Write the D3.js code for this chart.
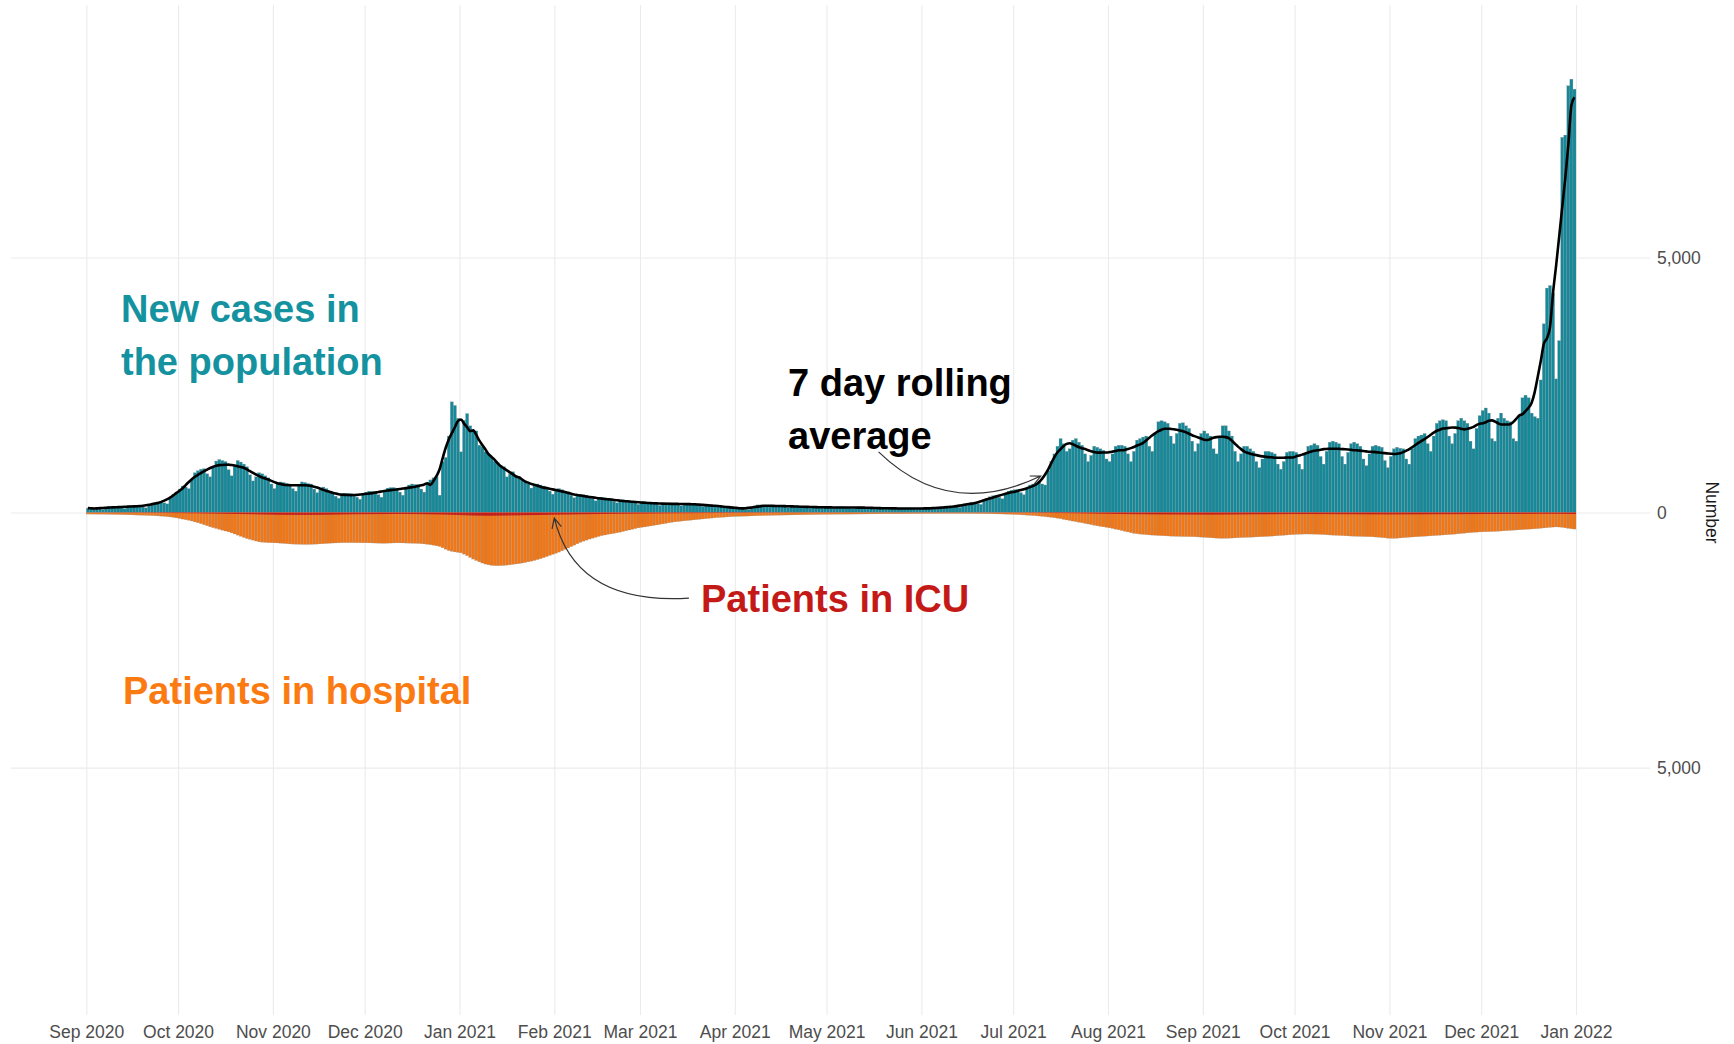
<!DOCTYPE html>
<html>
<head>
<meta charset="utf-8">
<script src="https://cdn.jsdelivr.net/npm/d3@7"></script>
<style>
  body { margin: 0; background: #fff; }
  svg { display: block; font-family: "Liberation Sans", Arial, sans-serif; }
</style>
</head>
<body>
<svg id="chart" width="1734" height="1044"></svg>
<script>
// daily series, one value per day starting at firstDay
var firstDay = "2020-09-01";

var newCases = [
  85,90,88,84,70,58,100,112,118,115,110,92,78,120,135,140,138,130,108,92,150,180,195,210,220,190,170,300,350,400,
  460,520,500,470,640,780,820,850,860,760,700,900,1010,1040,1020,1000,840,720,930,1020,990,950,900,740,620,700,780,760,720,680,560,
  470,560,600,590,570,560,470,420,540,600,590,570,560,460,390,480,500,470,420,390,320,280,340,380,380,370,360,300,260,360,
  400,420,420,410,350,300,440,480,490,490,480,400,340,480,540,560,550,550,460,400,580,640,680,700,340,1000,1080,1500,2170,2100,1850,
  1190,1810,1940,1700,1610,1600,1320,1290,1190,1150,1090,1000,980,930,900,700,760,800,720,700,650,620,560,480,520,560,540,520,500,420,360,
  460,470,450,420,400,340,290,330,360,350,340,320,270,230,270,300,290,280,270,220,190,230,250,240,230,220,190,160,
  190,210,205,200,190,160,140,170,190,190,185,180,150,130,165,185,180,175,170,145,120,140,155,150,140,135,110,95,105,110,105,
  100,90,70,60,55,90,130,150,150,125,110,120,140,145,140,135,115,100,115,130,130,125,120,100,85,100,120,115,115,110,
  90,80,85,110,115,110,105,90,75,90,110,110,105,100,85,70,80,95,95,90,88,75,65,75,88,88,85,85,72,62,70,
  90,92,90,90,78,68,95,110,115,120,125,110,100,140,170,185,195,200,175,160,230,280,310,330,340,300,270,360,420,440,
  450,450,390,350,470,540,560,580,600,560,540,820,1000,1150,1300,1450,1350,1200,1250,1420,1450,1380,1320,1150,1000,1120,1300,1280,1250,1220,1050,
  1000,1150,1300,1320,1320,1300,1150,1000,1200,1420,1450,1480,1500,1300,1200,1550,1780,1800,1780,1750,1500,1350,1550,1750,1760,1700,1650,1400,1200,1350,1550,
  1600,1550,1500,1250,1150,1500,1700,1700,1600,1500,1200,1000,1150,1300,1300,1250,1200,1000,880,1050,1200,1200,1180,1150,950,850,1000,1180,1200,1200,
  1180,950,850,1150,1300,1320,1350,1320,1100,950,1200,1380,1400,1380,1350,1100,950,1180,1350,1380,1350,1300,1050,920,1150,1300,1320,1300,1280,1020,880,
  1100,1250,1280,1260,1250,1050,950,1250,1450,1500,1520,1550,1350,1200,1500,1750,1800,1820,1800,1500,1350,1550,1800,1850,1800,1750,1400,1250,1650,1900,
  2000,2050,1950,1450,1400,1850,1950,1850,1800,1780,1450,1400,1900,2250,2300,2250,1950,1880,1850,2600,3700,4400,4450,4300,2620,3370,7355,7400,8366,8496,8300
];

var hospital = [
  30,30,31,32,33,33,34,35,37,38,39,40,42,44,45,47,49,51,53,55,57,60,63,66,70,75,80,87,95,105,
  117,128,140,150,165,183,200,218,238,258,280,296,312,328,345,362,378,398,420,442,465,488,509,525,540,558,574,580,586,590,592,
  594,596,600,605,610,615,618,620,622,624,625,625,623,620,618,614,610,606,602,598,596,594,592,590,590,590,591,592,593,594,
  594,595,596,598,600,602,603,600,598,596,595,595,596,598,600,602,604,606,610,615,622,630,640,652,665,690,720,745,760,772,780,
  790,815,845,880,912,940,966,990,1010,1025,1035,1040,1042,1040,1036,1030,1024,1016,1008,1000,990,978,966,952,938,922,904,884,862,840,818,
  798,775,750,722,695,668,640,612,585,560,540,520,502,485,468,452,440,428,418,408,396,384,370,356,342,328,314,300,
  290,282,272,262,252,242,232,222,212,200,190,182,175,168,162,156,150,144,138,132,126,120,114,108,103,98,94,90,86,82,78,
  76,74,72,70,68,66,64,62,60,58,57,55,54,52,51,50,49,48,47,46,45,44,43,42,41,40,39,38,37,36,
  35,35,34,33,33,32,31,31,30,30,29,29,28,28,27,27,26,26,26,25,25,25,24,24,24,23,23,23,22,22,22,
  22,21,21,21,20,20,20,20,19,19,19,19,19,20,20,20,21,21,22,22,23,24,25,26,27,28,29,31,33,35,
  38,41,44,47,51,55,59,63,68,74,80,87,94,102,110,120,134,145,156,167,178,190,200,212,224,236,248,260,270,280,290,
  300,312,325,338,352,366,380,394,408,415,422,428,433,438,442,446,450,453,456,459,462,464,466,468,470,471,472,473,475,478,482,
  486,490,494,498,502,505,506,505,503,500,497,493,490,488,486,484,481,478,475,472,469,466,462,458,453,449,445,440,436,432,
  428,425,423,421,421,422,424,426,429,432,436,440,443,446,449,452,455,458,461,464,466,468,470,472,473,476,480,485,490,496,502,
  506,506,503,498,493,488,484,479,475,472,468,464,460,456,452,448,444,440,436,432,427,422,416,410,404,398,393,388,384,380,
  378,376,374,372,370,366,362,358,354,350,346,342,338,334,330,326,322,318,314,308,302,296,290,285,282,284,290,300,310,318,324
];

var icu = [
  2,2,2,3,3,3,3,3,4,4,4,4,4,5,5,5,6,5,6,6,6,7,7,7,8,8,9,9,10,11,
  11,12,12,13,14,14,15,16,17,18,19,20,21,22,22,24,25,26,27,28,29,30,31,32,33,34,36,37,38,39,40,
  41,42,43,44,45,45,46,46,46,47,47,46,46,45,45,44,43,42,41,40,39,38,37,36,35,34,34,33,33,32,
  32,31,31,30,30,30,29,29,29,28,28,28,28,29,29,30,30,31,31,32,33,34,35,36,37,38,40,42,44,46,48,
  50,52,54,56,58,59,60,61,62,62,62,61,61,60,59,58,57,56,55,54,53,52,51,50,49,48,47,46,45,44,43,
  42,41,40,39,38,37,36,35,34,33,32,31,30,30,29,28,28,27,26,26,25,24,24,23,22,22,21,20,
  20,19,19,18,18,17,17,16,16,15,15,14,14,13,13,12,12,12,11,11,11,10,10,10,9,9,9,8,8,8,8,
  7,7,7,7,6,6,6,6,6,5,5,5,5,5,5,4,4,4,4,4,4,4,4,3,3,3,3,3,3,3,
  3,3,3,3,3,3,3,3,2,2,2,2,2,2,2,2,2,2,2,2,2,2,2,2,2,2,2,2,2,2,2,
  2,2,2,2,2,2,2,2,2,2,2,2,2,2,2,2,2,2,2,2,2,2,3,3,3,3,3,3,4,4,
  4,4,5,5,5,6,6,6,7,7,8,8,9,9,10,10,11,12,12,13,14,15,16,17,18,19,20,21,22,23,24,
  25,26,27,28,29,30,30,31,32,32,33,33,34,34,35,35,35,36,36,36,37,37,37,38,38,38,38,39,39,39,39,
  40,40,40,40,39,39,39,38,38,38,37,37,36,36,35,35,34,34,33,33,33,32,32,32,31,31,31,30,30,30,
  30,30,30,29,29,29,29,30,30,30,30,31,31,31,32,32,32,33,33,33,34,34,34,34,35,35,35,35,35,36,36,
  36,36,36,36,35,35,35,35,34,34,34,34,33,33,33,33,32,32,32,32,31,31,31,31,30,30,30,30,30,29,
  29,29,29,28,28,28,28,27,27,27,27,27,26,26,26,26,26,25,25,25,25,25,25,25,25,25,26,26,27,27,28
];

var monthTicks = [
  "2020-09-01", "2020-10-01", "2020-11-01", "2020-12-01", "2021-01-01", "2021-02-01",
  "2021-03-01", "2021-04-01", "2021-05-01", "2021-06-01", "2021-07-01", "2021-08-01",
  "2021-09-01", "2021-10-01", "2021-11-01", "2021-12-01", "2022-01-01"
];
var valueTicks = [-5000, 0, 5000];

var teal = "#15899a", orange = "#f27614", red = "#c21d1d";

var panel = {left: 11, right: 1650, top: 5, bottom: 1015};
var parse = d3.utcParse("%Y-%m-%d");
var start = parse(firstDay);

var days = newCases.map(function(v, i) {
    return {date: d3.utcDay.offset(start, i), cases: v, hosp: hospital[i], icu: icu[i]};
});

var x = d3.scaleUtc()
    .domain([start, parse("2022-01-01")])
    .range([86.3, 1576]);
var y = d3.scaleLinear()
    .domain([-9850, 9950])
    .range([panel.bottom, panel.top]);

function barW(d) {
    return x(d3.utcDay.offset(d.date, 1)) - x(d.date);
}

var svg = d3.select("#chart");

// month gridlines + labels
var gx = svg.append("g")
    .attr("transform", "translate(0," + panel.bottom + ")")
    .call(d3.axisBottom(x)
        .tickValues(monthTicks.map(parse))
        .tickFormat(d3.utcFormat("%b %Y"))
        .tickSize(-(panel.bottom - panel.top))
        .tickPadding(10.5));
gx.attr("font-family", null).attr("font-size", 17.5);
gx.select(".domain").remove();
gx.selectAll(".tick line").attr("stroke", "#ebebeb").attr("stroke-width", 1.1);
gx.selectAll(".tick text").attr("fill", "#4d4d4d");

var gy = svg.append("g")
    .attr("transform", "translate(" + panel.right + ",0)")
    .call(d3.axisRight(y)
        .tickValues(valueTicks)
        .tickFormat(function(d) { return d3.format(",")(Math.abs(d)); })
        .tickSize(-(panel.right - panel.left))
        .tickPadding(7));
gy.attr("font-family", null).attr("font-size", 17.5);
gy.select(".domain").remove();
gy.selectAll(".tick line").attr("stroke", "#ebebeb").attr("stroke-width", 1.1);
gy.selectAll(".tick text").attr("fill", "#4d4d4d");

svg.append("text")
    .attr("transform", "translate(1712," + y(0) + ") rotate(90)")
    .attr("text-anchor", "middle")
    .attr("dy", "0.35em")
    .attr("font-size", 17.5)
    .attr("fill", "#1a1a1a")
    .text("Number");

// bars
var bars = svg.append("g");
bars.selectAll("rect.cases")
    .data(days)
    .enter().append("rect")
    .attr("class", "cases")
    .attr("x", function(d) { return x(d.date); })
    .attr("width", barW)
    .attr("y", function(d) { return y(d.cases); })
    .attr("height", function(d) { return y(0) - y(d.cases); })
    .attr("fill", teal)
    .attr("stroke", "#8e8e8e")
    .attr("stroke-width", 0.25);
bars.selectAll("rect.hosp")
    .data(days)
    .enter().append("rect")
    .attr("class", "hosp")
    .attr("x", function(d) { return x(d.date); })
    .attr("width", barW)
    .attr("y", y(0))
    .attr("height", function(d) { return y(-d.hosp) - y(0); })
    .attr("fill", orange)
    .attr("stroke", "#8e8e8e")
    .attr("stroke-width", 0.25);
bars.selectAll("rect.icu")
    .data(days)
    .enter().append("rect")
    .attr("class", "icu")
    .attr("x", function(d) { return x(d.date); })
    .attr("width", barW)
    .attr("y", y(0))
    .attr("height", function(d) { return y(-d.icu) - y(0); })
    .attr("fill", red);

// centred 7 day rolling mean
var rolling = days.map(function(d, i) {
    var win = newCases.slice(Math.max(0, i - 3), Math.min(newCases.length, i + 4));
    return {date: d.date, w: barW(d), value: d3.mean(win)};
});
svg.append("path")
    .datum(rolling)
    .attr("fill", "none")
    .attr("stroke", "#000")
    .attr("stroke-width", 2.6)
    .attr("stroke-linejoin", "round")
    .attr("d", d3.line()
        .x(function(d) { return x(d.date) + d.w / 2; })
        .y(function(d) { return y(d.value); })
        .curve(d3.curveMonotoneX));

// annotations
function label(lines, px, py, color) {
    var t = svg.append("text")
        .attr("font-size", 38)
        .attr("font-weight", "bold")
        .attr("fill", color);
    lines.forEach(function(s, i) {
        t.append("tspan").attr("x", px).attr("y", py + i * 52.5).text(s);
    });
}
label(["New cases in", "the population"], 121, 322, "#1592a0");
label(["7 day rolling", "average"], 788, 396, "#000");
label(["Patients in ICU"], 701, 612, "#c41a17");
label(["Patients in hospital"], 123, 704, "#fb7b12");

var arrows = [
    {from: ["2021-05-18", 1190], via: ["2021-06-10", -150], to: ["2021-07-10", 716]},
    {from: ["2021-03-17", -1676], via: ["2021-02-08", -1814], to: ["2021-02-01", -108]}
];
arrows.forEach(function(a) {
    var p0 = [x(parse(a.from[0])), y(a.from[1])],
        pc = [x(parse(a.via[0])), y(a.via[1])],
        p1 = [x(parse(a.to[0])), y(a.to[1])];
    var p = d3.path();
    p.moveTo(p0[0], p0[1]);
    p.quadraticCurveTo(pc[0], pc[1], p1[0], p1[1]);
    var ang = Math.atan2(p1[1] - pc[1], p1[0] - pc[0]);
    var len = 11, spread = 0.45;
    var h = d3.path();
    h.moveTo(p1[0] - len * Math.cos(ang - spread), p1[1] - len * Math.sin(ang - spread));
    h.lineTo(p1[0], p1[1]);
    h.lineTo(p1[0] - len * Math.cos(ang + spread), p1[1] - len * Math.sin(ang + spread));
    svg.append("path").attr("d", p.toString() + h.toString())
        .attr("fill", "none").attr("stroke", "#333").attr("stroke-width", 1.2);
});
</script>
</body>
</html>
